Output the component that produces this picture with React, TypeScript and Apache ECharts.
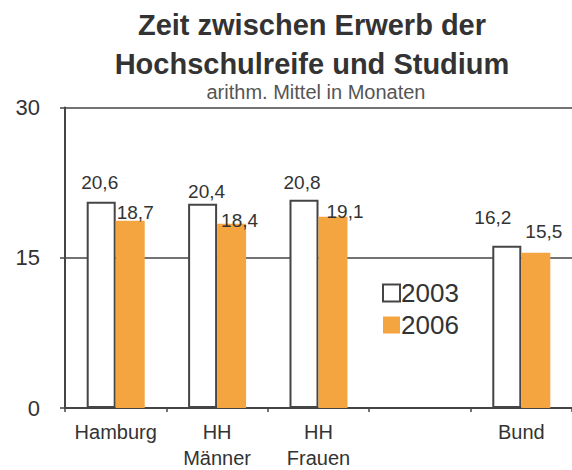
import React, { useEffect, useRef } from "react";
import * as echarts from "echarts";

const categories = ["Hamburg", "HH\nMänner", "HH\nFrauen", "", "Bund"];
const values2003 = [20.6, 20.4, 20.8, null, 16.2];
const values2006 = [18.7, 18.4, 19.1, null, 15.5];
const seriesNames = ["2003", "2006"];
const yTicks = { min: 0, max: 30, interval: 15 };
const titleLines = ["Zeit zwischen Erwerb der", "Hochschulreife und Studium"];
const subtitle = "arithm. Mittel in Monaten";

// label nudges [dx, dy] to mimic the hand-placed labels of the original
const labelShift2003 = [[-1.5, -10], [4, -3], [-2, -8], [0, 0], [-14, -19]];
const labelShift2006 = [[5, 1], [8, 6], [12, 4], [0, 0], [8, -12]];

const FONT = "'Liberation Sans', Arial, Helvetica, sans-serif";
const TXT = "#333";
const LINE = "#454545";
const ORANGE = "#F4A540";

const fmt = (p: any) =>
  p.value == null ? "" : Number(p.value).toFixed(1).replace(".", ",");

export default function App() {
  const ref = useRef<HTMLDivElement>(null);
  useEffect(() => {
    if (!ref.current) return;
    const chart = echarts.init(ref.current, null, { renderer: "svg", width: 572, height: 470 });
    const labelBase = {
      show: true,
      position: "top",
      distance: 0,
      fontSize: 19,
      color: TXT,
      fontFamily: FONT,
      formatter: fmt,
    };
    const mk = (vals: (number | null)[], shifts: number[][]) =>
      vals.map((v, i) => ({ value: v, label: { offset: shifts[i] } }));
    chart.setOption({
      animation: false,
      textStyle: { fontFamily: FONT },
      graphic: [
        {
          type: "text",
          style: {
            text: titleLines[0],
            x: 312,
            y: 25,
            textAlign: "center",
            textVerticalAlign: "middle",
            font: `bold 29px ${FONT}`,
            fill: TXT,
          },
        },
        {
          type: "text",
          style: {
            text: titleLines[1],
            x: 312,
            y: 64,
            textAlign: "center",
            textVerticalAlign: "middle",
            font: `bold 29px ${FONT}`,
            fill: TXT,
          },
        },
        {
          type: "text",
          style: {
            text: subtitle,
            x: 316,
            y: 92,
            textAlign: "center",
            textVerticalAlign: "middle",
            font: `20px ${FONT}`,
            fill: "#555",
          },
        },
      ],
      legend: {
        orient: "vertical",
        left: 377,
        top: 275,
        itemWidth: 17,
        itemHeight: 17,
        itemGap: 6,
        icon: "rect",
        textStyle: { fontSize: 26, color: TXT, fontFamily: FONT, padding: [0, 0, 0, -4] },
        data: seriesNames,
      },
      grid: {
        left: 65,
        right: 0,
        top: 107.5,
        bottom: 62,
        containLabel: false,
        outerBoundsMode: "none",
      },
      xAxis: {
        type: "category",
        data: categories,
        axisLine: { show: true, lineStyle: { color: LINE, width: 2 } },
        axisTick: { show: true, length: 4, lineStyle: { color: LINE, width: 1.5 } },
        axisLabel: {
          fontSize: 20,
          lineHeight: 26,
          color: TXT,
          fontFamily: FONT,
          margin: 11,
          interval: 0,
        },
      },
      yAxis: {
        type: "value",
        min: yTicks.min,
        max: yTicks.max,
        interval: yTicks.interval,
        axisLine: { show: true, lineStyle: { color: LINE, width: 2 } },
        axisTick: { show: true, length: 5, lineStyle: { color: LINE, width: 1.5 } },
        splitLine: { show: true, lineStyle: { color: LINE, width: 1.5 } },
        axisLabel: { fontSize: 22, color: TXT, fontFamily: FONT, margin: 25 },
      },
      series: [
        {
          name: seriesNames[0],
          type: "bar",
          barWidth: 29,
          barGap: "0%",
          itemStyle: { color: "#ffffff", borderColor: LINE, borderWidth: 2 },
          label: labelBase,
          data: mk(values2003, labelShift2003),
        },
        {
          name: seriesNames[1],
          type: "bar",
          barWidth: 29,
          barGap: "0%",
          itemStyle: { color: ORANGE },
          label: labelBase,
          data: mk(values2006, labelShift2006),
        },
      ],
    });
    return () => chart.dispose();
  }, []);
  return (
    <div
      ref={ref}
      style={{ position: "absolute", left: 0, top: 0, width: 572, height: 470 }}
    />
  );
}
